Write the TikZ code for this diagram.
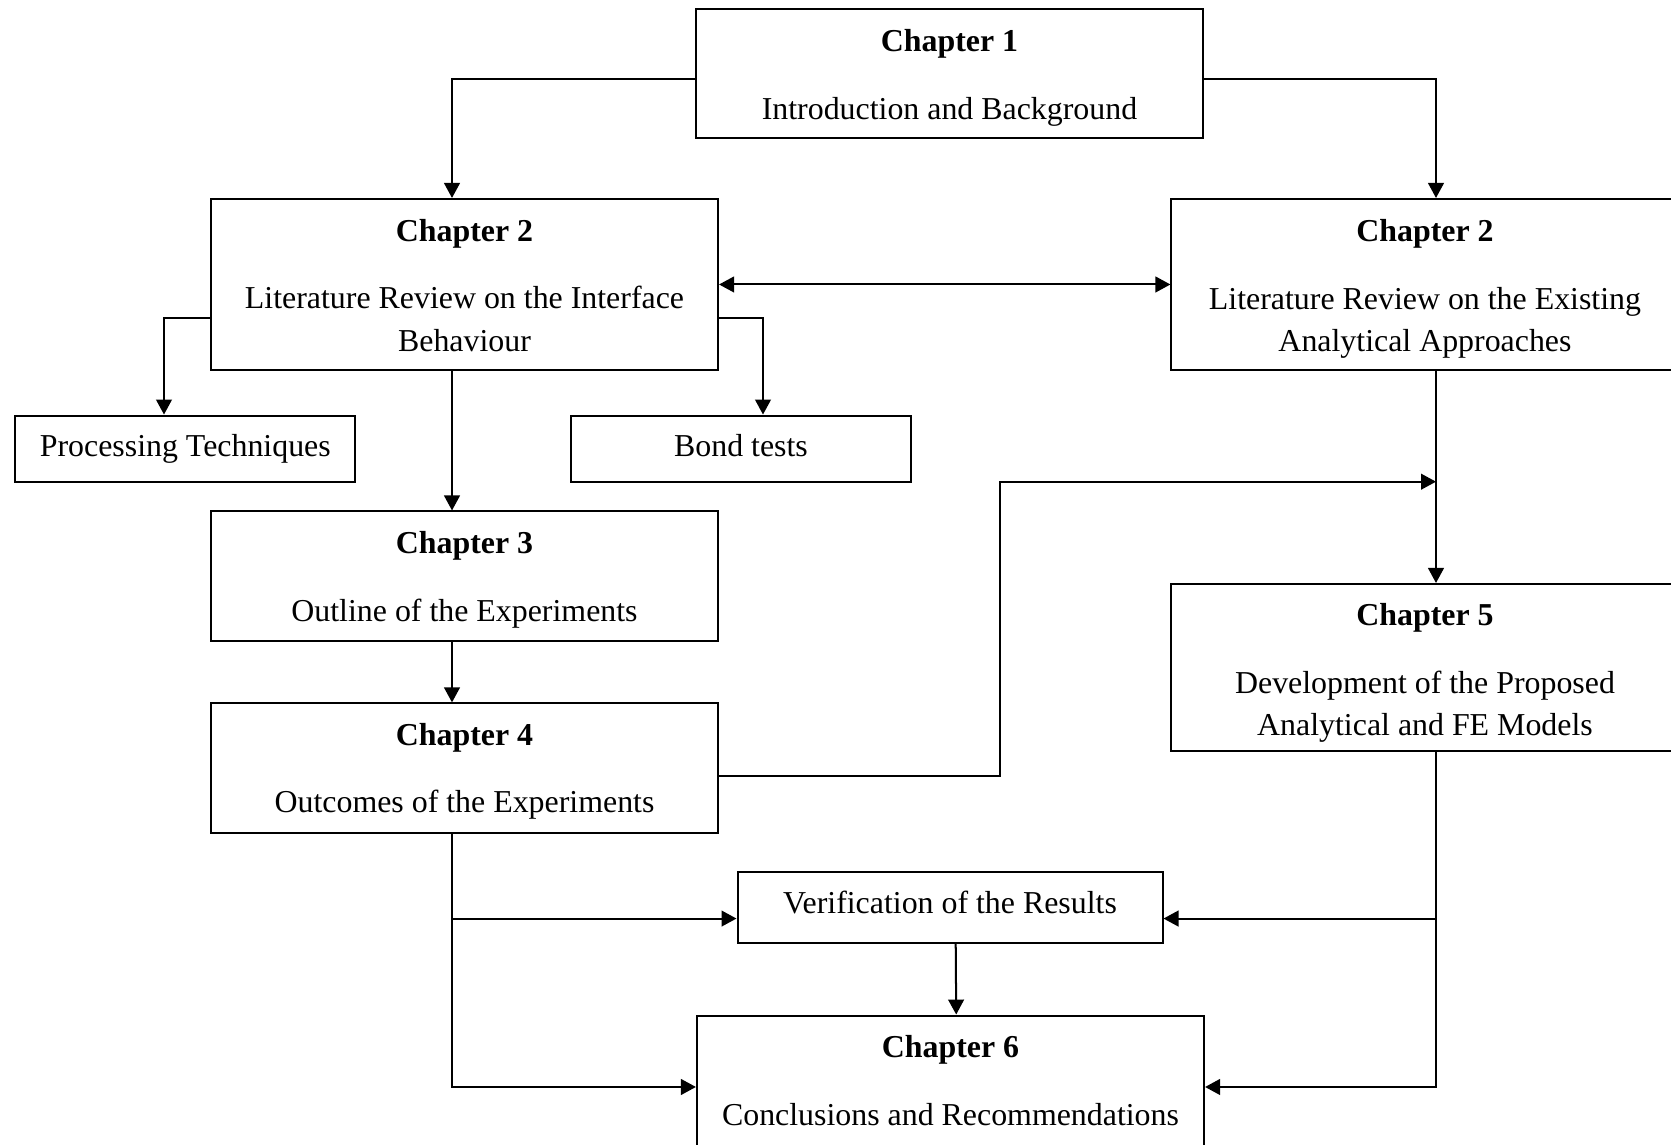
\documentclass[tikz,border=0pt]{standalone}
\usepackage{fontspec}
\setmainfont{Liberation Serif}
\usepackage{tikz}
\usetikzlibrary{arrows.meta,positioning,calc}

% raise or lower the text inside a box (top height / bottom depth)
\newcommand{\padtop}[1]{\rule{0pt}{#1}}
\newcommand{\padbot}[1]{\rule[-#1]{0pt}{#1}}

\begin{document}
\begin{tikzpicture}[
    box/.style={rectangle, draw, line width=0.8pt, minimum width=#1, align=center, inner sep=2pt,
        font=\fontsize{12.7}{17}\selectfont},
    box/.default=7.1cm,
    arr/.style={-{Triangle[length=2.1mm, width=2.2mm]}, line width=0.8pt},
    arrboth/.style={{Triangle[length=2.1mm, width=2.2mm]}-{Triangle[length=2.1mm, width=2.2mm]}, line width=0.8pt}
]
\useasboundingbox (0,0) rectangle (23.394,16.03);

% Chapter 1
\node[box, minimum height=1.806cm] (ch1) at (13.293, 14.994)
    {\padtop{11.7pt}\textbf{Chapter 1}\\[10pt] Introduction and Background};

% Chapter 2 (two reviews)
\node[box, minimum height=2.394cm] (ch2l) at (6.503, 12.047)
    {\padtop{9.6pt}\textbf{Chapter 2}\\[10pt] Literature Review on the Interface\\ Behaviour};
\node[box, minimum height=2.394cm] (ch2r) at (19.95, 12.047)
    {\padtop{12.5pt}\textbf{Chapter 2}\\[10pt] Literature Review on the Existing\\ Analytical Approaches};

% Sub-topics of the interface review
\node[box=4.76cm, minimum height=0.924cm] (proc) at (2.594, 9.75) {Processing Techniques};
\node[box=4.76cm, minimum height=0.924cm] (bond) at (10.374, 9.75) {Bond tests\padbot{2.5pt}};

% Experimental chapters
\node[box, minimum height=1.82cm] (ch3) at (6.503, 7.959)
    {\padtop{11.7pt}\textbf{Chapter 3}\\[10pt] Outline of the Experiments};
\node[box, minimum height=1.82cm] (ch4) at (6.503, 5.272)
    {\padtop{11.2pt}\textbf{Chapter 4}\\[10pt] Outcomes of the Experiments};

% Modelling chapter
\node[box, minimum height=2.338cm] (ch5) at (19.95, 6.685)
    {\padtop{13.3pt}\textbf{Chapter 5}\\[10pt] Development of the Proposed\\ Analytical and FE Models};

% Verification and conclusions
\node[box=5.95cm, minimum height=0.994cm] (verif) at (13.3, 3.326) {Verification of the Results\padbot{4.2pt}};
\node[box, minimum height=1.82cm] (ch6) at (13.307, 0.902)
    {\textbf{Chapter 6}\\[10pt] Conclusions and Recommendations};

\coordinate (bend) at (13.994, 9.286);
\coordinate (join) at (20.104, 9.286);

% Arrows
\draw[arr] ([yshift=-0.07cm]ch1.west) -| ([xshift=-0.175cm]ch2l.north);
\draw[arr] ([yshift=-0.07cm]ch1.east) -| ([xshift=0.154cm]ch2r.north);
\draw[arrboth] (ch2l.east) -- (ch2r.west);
\draw[arr] ([yshift=-0.463cm]ch2l.west) -| ([xshift=-0.298cm]proc.north);
\draw[arr] ([yshift=-0.463cm]ch2l.east) -| ([xshift=0.308cm]bond.north);
\draw[arr] ([xshift=-0.175cm]ch2l.south) -- ([xshift=-0.175cm]ch3.north);
\draw[arr] ([xshift=-0.175cm]ch3.south) -- ([xshift=-0.175cm]ch4.north);
\draw[arr] ([xshift=0.154cm]ch2r.south) -- ([xshift=0.154cm]ch5.north);
\draw[arr] ([yshift=-0.103cm]ch4.east) -| (bend) -- (join);

% Into verification and conclusions
\draw[arr] ([xshift=-0.175cm]ch4.south) |- ([yshift=-0.156cm]verif.west);
\draw[arr] ([xshift=-0.175cm]ch4.south) |- ([yshift=-0.09cm]ch6.west);
\draw[arr] ([xshift=0.154cm]ch5.south) |- ([yshift=-0.156cm]verif.east);
\draw[arr] ([xshift=0.154cm]ch5.south) |- ([yshift=-0.09cm]ch6.east);
\draw[arr] ([xshift=0.08cm]verif.south) -- ([xshift=0.08cm]ch6.north);

\end{tikzpicture}
\end{document}
